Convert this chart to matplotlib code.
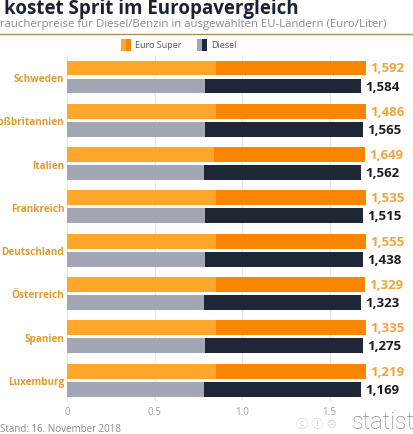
import matplotlib
matplotlib.use("Agg")
import matplotlib.pyplot as plt
from matplotlib.patches import Rectangle

# ---------------- data ----------------
countries = ["Schweden", "Großbritannien", "Italien", "Frankreich",
             "Deutschland", "Österreich", "Spanien", "Luxemburg"]
euro_super = [1.592, 1.486, 1.649, 1.535, 1.555, 1.329, 1.335, 1.219]
diesel = [1.584, 1.565, 1.562, 1.515, 1.438, 1.323, 1.275, 1.169]
# bar extents as drawn in the picture (light segment end, total bar end)
euro_bar_light = [0.85, 0.85, 0.84, 0.85, 0.85, 0.85, 0.85, 0.85]
euro_bar_total = [1.71, 1.71, 1.70, 1.71, 1.71, 1.70, 1.71, 1.71]
diesel_bar_light = [0.79, 0.79, 0.78, 0.79, 0.79, 0.78, 0.79, 0.78]
diesel_bar_total = [1.68, 1.69, 1.68, 1.69, 1.69, 1.68, 1.69, 1.68]
x_ticks = [0, 0.5, 1.0, 1.5]
x_tick_labels = ["0", "0.5", "1.0", "1.5"]
series_names = ["Euro Super", "Diesel"]

title = "So viel kostet Sprit im Europavergleich"
subtitle = "Verbraucherpreise für Diesel/Benzin in ausgewählten EU-Ländern (Euro/Liter)"
footer = "Stand: 16. November 2018"

# ---------------- style ----------------
FONT = "Open Sans"
C_OR_L, C_OR_D = "#FFA62B", "#FA8600"
C_GR_L, C_GR_D = "#A2A7B3", "#1F2636"
C_COUNTRY = "#E39B2F"
C_EURO_LBL = "#F2A33A"
C_DIESEL_LBL = "#1C1C1C"

W, H = 413, 435
fig = plt.figure(figsize=(W / 100, H / 100), dpi=100)
fig.patch.set_facecolor("white")


def fx(px):
    return px / W


def fy(py):
    return 1 - py / H


renderer = fig.canvas.get_renderer()


def text_width(s, **kw):
    t = fig.text(0, 0, s, **kw)
    w = t.get_window_extent(renderer).width
    t.remove()
    return w


# ---------------- axes ----------------
group_px = 43.3
top_px = 78 - 0.5 * group_px
ax_h = group_px * len(countries)
ax_left = 67
ax = fig.add_axes([fx(ax_left), fy(top_px + ax_h), fx(315), ax_h / H])
ax.set_xlim(0, 1.8)
ax.set_ylim(len(countries) - 0.5, -0.5)

ys = list(range(len(countries)))
bh = 0.346
off = 0.208
ye = [y - off for y in ys]
yd = [y + off for y in ys]

ax.barh(ye, euro_bar_light, height=bh, color=C_OR_L, linewidth=0, zorder=2)
ax.barh(ye, [t - l for t, l in zip(euro_bar_total, euro_bar_light)],
        left=euro_bar_light, height=bh, color=C_OR_D, linewidth=0, zorder=2)
ax.barh(yd, diesel_bar_light, height=bh, color=C_GR_L, linewidth=0, zorder=2)
ax.barh(yd, [t - l for t, l in zip(diesel_bar_total, diesel_bar_light)],
        left=diesel_bar_light, height=bh, color=C_GR_D, linewidth=0, zorder=2)

for y, t, v in zip(ye, euro_bar_total, euro_super):
    ax.text(t + 0.025, y, f"{v:.3f}".replace(".", ","), va="center", ha="left",
            fontsize=9.5, fontweight="bold", color=C_EURO_LBL, family=FONT)
for y, t, v in zip(yd, diesel_bar_total, diesel):
    ax.text(t + 0.025, y, f"{v:.3f}".replace(".", ","), va="center", ha="left",
            fontsize=9.5, fontweight="bold", color=C_DIESEL_LBL, family=FONT)

ax.set_yticks(ys)
ax.set_yticklabels(countries, fontsize=7.2, fontweight="bold", color=C_COUNTRY,
                   family=FONT)
ax.set_xticks(x_ticks)
ax.set_xticklabels(x_tick_labels, fontsize=7, color="#A0A0A0", family=FONT)
ax.tick_params(axis="both", length=0)
ax.tick_params(axis="y", pad=2)
ax.tick_params(axis="x", pad=3)
for s in ax.spines.values():
    s.set_visible(False)
ax.xaxis.grid(True, color="#E8E8E8", linewidth=0.8, zorder=0)
ax.set_axisbelow(True)
ax.patch.set_alpha(0)

# ---------------- header ----------------
tkw = dict(fontsize=13.5, fontweight="bold", family=FONT)
shift = text_width("So viel kostet", **tkw) - text_width("kostet", **tkw)
fig.text(fx(4 - shift), fy(9), title, va="center", ha="left", color="#1C2233",
         **tkw)
skw = dict(fontsize=8.2, family=FONT)
shift = text_width("Verbraucherpreise", **skw) - text_width("raucherpreise", **skw)
fig.text(fx(0 - shift), fy(24), subtitle, va="center", ha="left",
         color="#8A8A8A", **skw)
fig.add_artist(plt.Line2D([0, 1], [fy(35), fy(35)], transform=fig.transFigure,
                          color="#B08A55", linewidth=1.0))

# ---------------- legend ----------------
def legend_icon(x0, c_left, c_right):
    fig.add_artist(Rectangle((fx(x0), fy(52)), fx(5), 12 / H, transform=fig.transFigure,
                             facecolor=c_left, edgecolor="none"))
    fig.add_artist(Rectangle((fx(x0 + 5), fy(52)), fx(5), 12 / H, transform=fig.transFigure,
                             facecolor=c_right, edgecolor="none"))


legend_icon(121, C_OR_L, C_OR_D)
fig.text(fx(135), fy(46), series_names[0], va="center", ha="left", fontsize=6.5,
         color="#555555", family=FONT)
legend_icon(197, C_GR_L, C_GR_D)
fig.text(fx(211), fy(46), series_names[1], va="center", ha="left", fontsize=6.5,
         color="#555555", family=FONT)

# ---------------- footer ----------------
fkw = dict(fontsize=7, family=FONT)
shift = text_width("Stand: 16.", **fkw) - text_width("16.", **fkw)
fig.text(fx(32 - shift), fy(430), footer, va="center", ha="left", color="#8A8A8A",
         **fkw)
fig.text(fx(296), fy(425), "ⓒ ⓘ ⊜", va="center", ha="left", fontsize=9,
         color="#D8D8D8", family=["Noto Sans CJK JP", "DejaVu Sans"])
fig.text(fx(352), fy(423), "statista", va="center", ha="left", fontsize=17,
         color="#8C8C8C", family="Roboto", fontweight="light")

fig.savefig("out.png", dpi=100, facecolor="white")
